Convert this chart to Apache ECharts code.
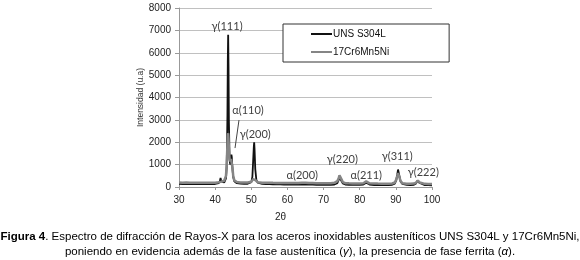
<!DOCTYPE html>
<html><head><meta charset="utf-8">
<script src="https://cdn.jsdelivr.net/npm/echarts@6/dist/echarts.min.js"></script>
<style>html,body{margin:0;padding:0;background:#fff}#c{width:580px;height:260px}</style>
</head><body><div id="c"></div>
<script>
var theta = [30,31,32,33,34,35,36,37,38,39,40,40.5,41,41.3,41.5,41.7,42,42.5,43,43.2,43.4,43.5,43.6,43.7,43.8,44,44.2,44.4,44.5,44.6,44.8,45,45.3,45.7,46,47,48,49,49.5,50,50.3,50.5,50.7,50.8,50.9,51.1,51.4,51.8,52,53,54,55,56,57,58,59,60,61,62,63,64,64.5,65,66,67,68,69,70,71,72,73,73.8,74.2,74.4,74.6,74.8,75,75.3,75.8,76,77,78,79,80,81,81.5,81.8,82,82.3,82.7,83,84,85,86,87,88,89,89.7,90.1,90.4,90.6,90.8,91,91.3,91.8,92,93,94,95,95.6,95.9,96.1,96.3,96.6,97,98,99,100];
var uns304 = [140,135,138,130,133,128,130,125,128,130,135,145,170,260,400,250,180,200,380,900,3200,5600,6800,5400,3000,1200,1000,1300,1450,1350,800,450,260,190,170,150,140,145,160,220,450,1100,1800,2000,1700,800,320,190,165,140,130,125,120,118,115,112,110,108,105,108,115,150,112,105,103,100,100,100,98,100,110,170,320,430,480,380,250,160,120,110,100,95,95,95,110,150,190,200,150,110,100,90,90,88,88,90,100,150,300,560,780,700,480,250,140,120,95,90,100,160,280,330,290,180,110,85,80,75];
var cr17 = [200,195,200,190,192,188,190,185,188,190,195,200,210,230,260,240,230,280,500,1000,1900,2300,2400,2150,1700,1250,1150,1250,1300,1200,850,500,300,240,220,205,200,200,205,230,280,350,420,430,400,310,240,215,205,195,190,188,185,183,182,180,180,178,178,180,195,220,190,178,175,172,172,170,170,172,185,260,400,520,550,470,330,220,175,170,165,162,160,160,170,210,250,240,200,165,158,155,152,150,150,150,155,200,330,500,620,580,430,260,170,160,150,148,155,200,260,290,270,200,150,140,138,135];
var seriesNames = ['UNS S304L', '17Cr6Mn5Ni'];
var peakLabels = ['γ(111)','α(110)','γ(200)','α(200)','γ(220)','α(211)','γ(311)','γ(222)'];
var peakLabelTheta = [43.3,49.1,51.1,64.1,75.2,81.8,90.4,97.6];
var peakLabelInt = [7190,3440,2370,536,1250,536,1384,670];
var pointerFrom = [46.6,2990];
var pointerTo = [45.5,1740];

var chart = echarts.init(document.getElementById('c'));
var axisTxt = {fontFamily:'Liberation Sans, Arial, sans-serif', fontSize:10, color:'#222'};
chart.setOption({
  animation:false,
  grid:{left:179, right:148, top:8, bottom:73},
  legend:{
    orient:'vertical', left:283, top:24, padding:[5,60,5,28], itemGap:8,
    itemWidth:21, itemHeight:2, icon:'rect',
    backgroundColor:'#fff', borderColor:'#333', borderWidth:1, borderRadius:0,
    textStyle:{fontFamily:'Liberation Sans, Arial, sans-serif', fontSize:10, color:'#111', padding:[0,0,0,-4]},
    data:seriesNames
  },
  xAxis:{type:'value', min:30, max:100, interval:10,
    name:'2θ', nameLocation:'middle', nameGap:25, nameTextStyle:Object.assign({}, axisTxt, {padding:[0,50,0,0]}),
    axisLine:{show:true, lineStyle:{color:'#999'}},
    axisTick:{show:true, length:3, lineStyle:{color:'#999'}},
    axisLabel:Object.assign({margin:8}, axisTxt),
    splitLine:{show:false}},
  yAxis:{type:'value', min:0, max:8000, interval:1000,
    name:'Intensidad (u.a)', nameLocation:'middle', nameGap:32, nameTextStyle:{fontFamily:'Liberation Sans, Arial, sans-serif', fontSize:8.5, color:'#333'},
    axisLine:{show:true, lineStyle:{color:'#999'}},
    axisTick:{show:true, length:4, lineStyle:{color:'#999'}},
    axisLabel:Object.assign({margin:8, formatter:function(v){return String(v);}}, axisTxt),
    splitLine:{show:true, lineStyle:{color:'#c0c0c0', width:1}}},
  series:[
    {name:seriesNames[0], type:'line', symbol:'none', z:3,
      lineStyle:{color:'#111', width:1.8}, itemStyle:{color:'#111'},
      data:theta.map(function(t,i){return [t, uns304[i]];}),
      markPoint:{symbol:'circle', symbolSize:0, silent:true,
        label:{show:true, position:'inside', formatter:'{b}', fontFamily:'Lato, Open Sans, sans-serif', fontSize:11, color:'#404040'},
        data:peakLabels.map(function(n,i){return {name:n, coord:[peakLabelTheta[i], peakLabelInt[i]]};})},
      markLine:{symbol:'none', silent:true, label:{show:false},
        lineStyle:{color:'#444', width:1, type:'solid'},
        data:[[{coord:pointerFrom},{coord:pointerTo}]]}
    },
    {name:seriesNames[1], type:'line', symbol:'none', z:4,
      lineStyle:{color:'#858585', width:2.5}, itemStyle:{color:'#858585'},
      data:theta.map(function(t,i){return [t, cr17[i]];})}
  ],
  graphic:[
    {type:'text', left:'center', top:231, style:{
      text:'{b|Figura 4}. Espectro de difracción de Rayos-X para los aceros inoxidables austeníticos UNS S304L y 17Cr6Mn5Ni,',
      font:'11.5px "Liberation Sans", Arial, sans-serif', fill:'#000',
      rich:{b:{fontWeight:'bold', fontFamily:'Liberation Sans, Arial, sans-serif', fontSize:11.5}}}},
    {type:'text', left:'center', top:246, style:{
      text:'poniendo en evidencia además de la fase austenítica ({i|γ}), la presencia de fase ferrita ({i|α}).',
      font:'11.5px "Liberation Sans", Arial, sans-serif', fill:'#000',
      rich:{i:{fontStyle:'italic', fontFamily:'Liberation Sans, Arial, sans-serif', fontSize:11.5}}}}
  ]
});
</script></body></html>
